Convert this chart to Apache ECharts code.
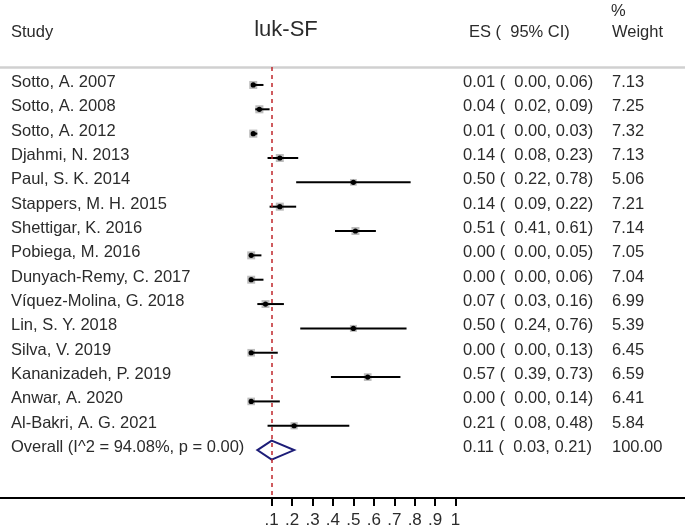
<!DOCTYPE html>
<html><head><meta charset="utf-8">
<script src="https://cdn.jsdelivr.net/npm/echarts@6/dist/echarts.min.js"></script>
<style>html,body{margin:0;padding:0;background:#fff}#c{width:685px;height:529px}</style>
</head><body><div id="c"></div>
<script>
const studies = ['Sotto, A. 2007','Sotto, A. 2008','Sotto, A. 2012','Djahmi, N. 2013','Paul, S. K. 2014','Stappers, M. H. 2015','Shettigar, K. 2016','Pobiega, M. 2016','Dunyach-Remy, C. 2017','Víquez-Molina, G. 2018','Lin, S. Y. 2018','Silva, V. 2019','Kananizadeh, P. 2019','Anwar, A. 2020','Al-Bakri, A. G. 2021'];
const es      = [0.01,0.04,0.01,0.14,0.50,0.14,0.51,0.00,0.00,0.07,0.50,0.00,0.57,0.00,0.21];
const ciLow   = [0.00,0.02,0.00,0.08,0.22,0.09,0.41,0.00,0.00,0.03,0.24,0.00,0.39,0.00,0.08];
const ciHigh  = [0.06,0.09,0.03,0.23,0.78,0.22,0.61,0.05,0.06,0.16,0.76,0.13,0.73,0.14,0.48];
const weights = [7.13,7.25,7.32,7.13,5.06,7.21,7.14,7.05,7.04,6.99,5.39,6.45,6.59,6.41,5.84];
const overallLabel = 'Overall (I^2 = 94.08%, p = 0.00)';
const overallEs = 0.11, overallLow = 0.03, overallHigh = 0.21, overallWeight = 100.00;
const overallDrawnEs = 0.10; // diamond centre / reference line as drawn in the picture
const tickValues = [0.1,0.2,0.3,0.4,0.5,0.6,0.7,0.8,0.9,1.0];
const tickLabels = ['.1','.2','.3','.4','.5','.6','.7','.8','.9','1'];
const headers = {study:'Study', title:'luk-SF', es:'ES (  95% CI)', pct:'%', weight:'Weight'};

const FONT = "'Liberation Sans', Arial, sans-serif";
const TXT = '#2b2b2b';
const FS = '16.5px ';
const fmt = v => v.toFixed(2);
const esText = (e,l,h) => fmt(e) + ' (  ' + fmt(l) + ', ' + fmt(h) + ')';

const rows = studies.map((s,i)=>[i, es[i], ciLow[i], ciHigh[i], weights[i]]);
const textRows = studies.map((s,i)=>[i, s, esText(es[i],ciLow[i],ciHigh[i]), fmt(weights[i])]);
textRows.push([studies.length, overallLabel, esText(overallEs,overallLow,overallHigh), fmt(overallWeight)]);

const chart = echarts.init(document.getElementById('c'), null, {renderer:'canvas'});
const X0 = 251.2, XS = 204.4, W = 685;
const ROW0 = 85, RS = 24.4, TOP = 67, BOT = 499;
chart.setOption({
  animation:false,
  backgroundColor:'#fff',
  textStyle:{fontFamily:FONT},
  grid:{left:0, right:0, top:TOP, bottom:529-BOT},
  xAxis:[{
    type:'value', min:-X0/XS, max:(W-X0)/XS, position:'bottom',
    axisLine:{show:true, onZero:false, lineStyle:{color:'#000', width:2}},
    axisTick:{show:true, length:8, lineStyle:{color:'#000', width:2}, customValues:tickValues},
    axisLabel:{show:true, margin:14, fontSize:17, color:TXT, fontFamily:FONT, customValues:tickValues,
      formatter:v=>{const k=tickValues.findIndex(t=>Math.abs(t-v)<1e-6); return k>=0?tickLabels[k]:'';}},
    splitLine:{show:false}
  },{
    type:'value', min:-X0/XS, max:(W-X0)/XS, position:'top',
    axisLine:{show:true, onZero:false, lineStyle:{color:'#d0d0d0', width:2.5}},
    axisTick:{show:false}, axisLabel:{show:false}, splitLine:{show:false}
  }],
  yAxis:{type:'value', inverse:true, min:-(ROW0-TOP)/RS, max:(BOT-ROW0)/RS, show:false},
  graphic:[
    {type:'text', left:11, top:24, style:{text:headers.study, font:FS+FONT, fill:TXT}},
    {type:'text', x:286, y:30, style:{text:headers.title, font:'22px '+FONT, fill:TXT, align:'center', verticalAlign:'middle'}},
    {type:'text', left:469, top:24, style:{text:headers.es, font:FS+FONT, fill:TXT}},
    {type:'text', left:611, top:3, style:{text:headers.pct, font:FS+FONT, fill:TXT}},
    {type:'text', left:612, top:24, style:{text:headers.weight, font:FS+FONT, fill:TXT}}
  ],
  series:[
    {
      type:'custom', xAxisIndex:0, data:rows, encode:{x:[1,2,3], y:0}, z:3,
      renderItem:(params, api)=>{
        const i = api.value(0);
        const p = api.coord([api.value(1), i]);
        const l = api.coord([api.value(2), i]);
        const h = api.coord([api.value(3), i]);
        const side = 3.0*Math.sqrt(api.value(4));
        return {type:'group', children:[
          {type:'rect', shape:{x:p[0]-side/2, y:p[1]-side/2, width:side, height:side}, style:{fill:'#bdbdbd'}},
          {type:'line', shape:{x1:l[0], y1:l[1], x2:h[0], y2:h[1]}, style:{stroke:'#000', lineWidth:2}},
          {type:'circle', shape:{cx:p[0], cy:p[1], r:2.6}, style:{fill:'#000'}}
        ]};
      },
      markLine:{
        silent:true, symbol:'none', label:{show:false},
        lineStyle:{color:'#c0262b', type:[4,4], width:1.5},
        data:[{xAxis:overallDrawnEs}]
      }
    },
    {
      type:'custom', xAxisIndex:0, data:[[studies.length, overallDrawnEs, overallLow, overallHigh]], encode:{x:[1,2,3], y:0}, z:4,
      renderItem:(params, api)=>{
        const i = api.value(0);
        const c = api.coord([api.value(1), i]);
        const l = api.coord([api.value(2), i]);
        const h = api.coord([api.value(3), i]);
        const hh = 9.5;
        return {type:'polygon', shape:{points:[[l[0],c[1]],[c[0],c[1]-hh],[h[0],c[1]],[c[0],c[1]+hh]]},
          style:{fill:'none', stroke:'#1d1d78', lineWidth:2}};
      }
    },
    {
      type:'custom', xAxisIndex:0, data:textRows, encode:{y:0}, z:5,
      renderItem:(params, api)=>{
        const i = api.value(0);
        const y = api.coord([0, i])[1] - 2.5;
        const r = textRows[params.dataIndex];
        const st = (x,t)=>({type:'text', x:x, y:y, style:{text:t, font:FS+FONT, fill:TXT, verticalAlign:'middle'}});
        return {type:'group', children:[st(11,r[1]), st(463,r[2]), st(612,r[3])]};
      }
    }
  ]
});
</script></body></html>
